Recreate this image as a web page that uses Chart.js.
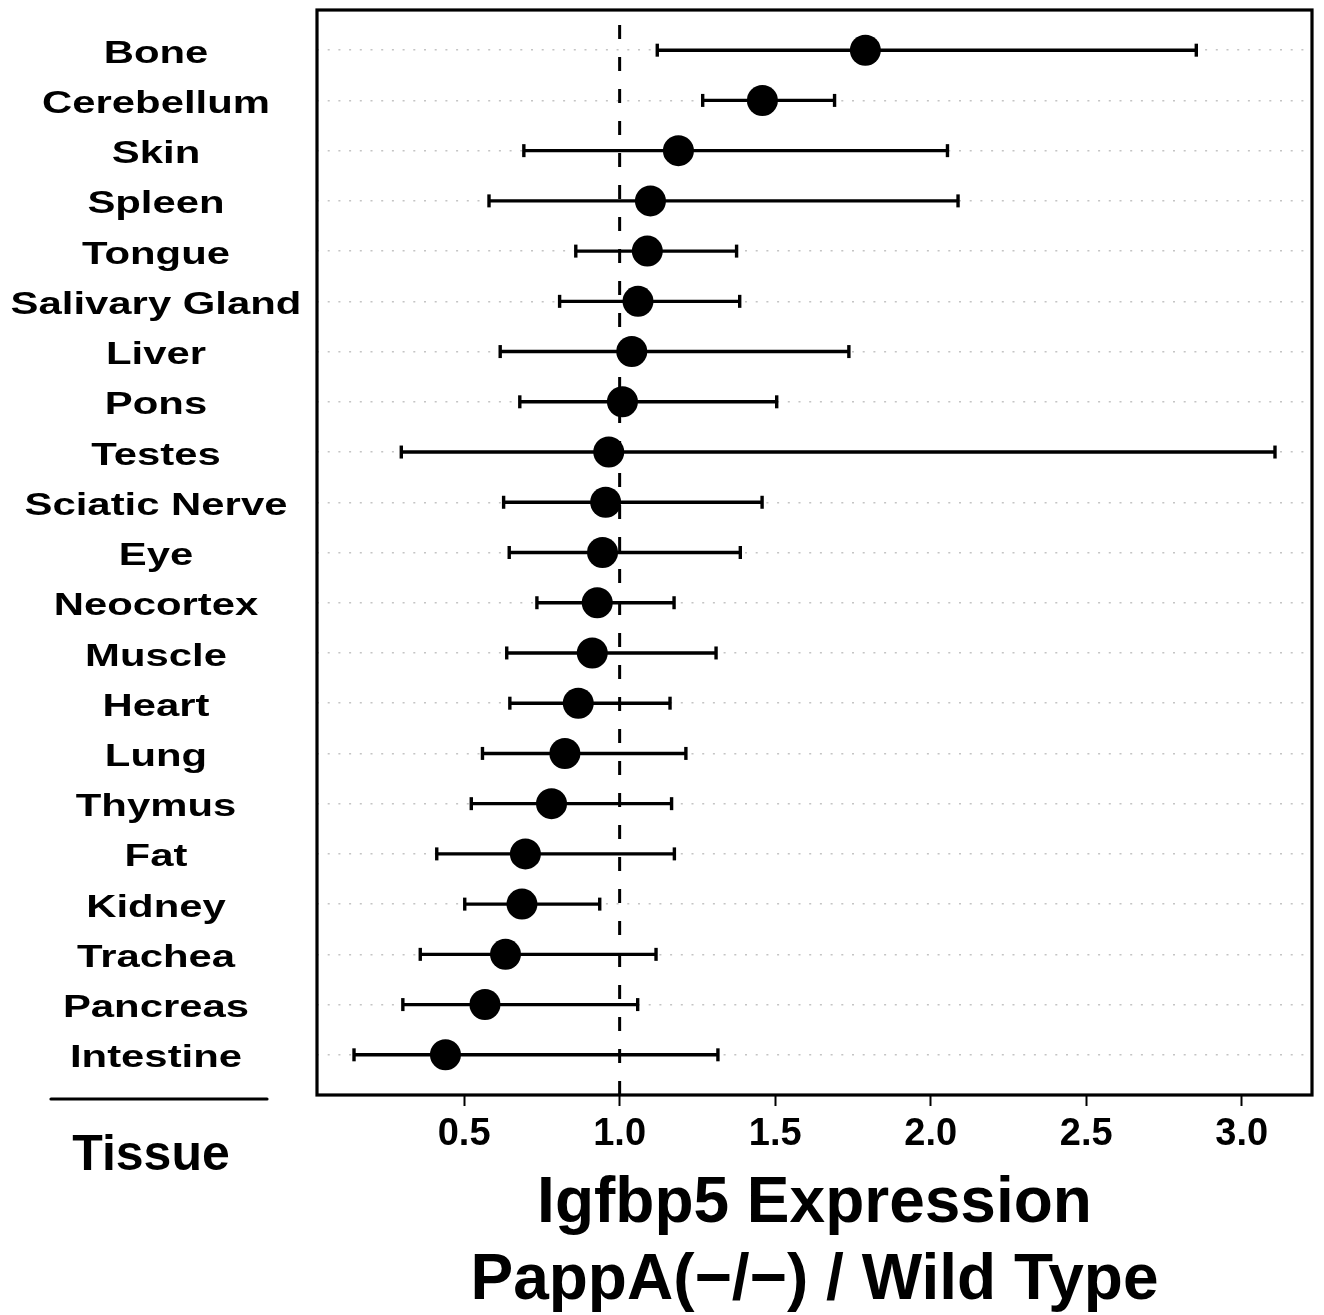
<!DOCTYPE html>
<html>
<head>
<meta charset="utf-8">
<script src="https://cdn.jsdelivr.net/npm/chart.js@4.4.1/dist/chart.umd.min.js"></script>
<style>
  body { margin: 0; background: #fff; }
  canvas { display: block; }
</style>
</head>
<body>
<canvas id="graphique" width="1324" height="1315"></canvas>
<script>
// Tissus, du haut vers le bas
const tissus = ["Bone", "Cerebellum", "Skin", "Spleen", "Tongue", "Salivary Gland", "Liver", "Pons",
  "Testes", "Sciatic Nerve", "Eye", "Neocortex", "Muscle", "Heart", "Lung", "Thymus", "Fat",
  "Kidney", "Trachea", "Pancreas", "Intestine"];
// Rapport d'expression PappA(-/-) / sauvage
const moyennes = [1.790, 1.459, 1.189, 1.099, 1.089, 1.059, 1.039, 1.009, 0.965, 0.955, 0.945,
  0.928, 0.912, 0.867, 0.824, 0.781, 0.697, 0.686, 0.633, 0.567, 0.440];
const bornesBasses = [1.121, 1.267, 0.692, 0.580, 0.859, 0.807, 0.616, 0.679, 0.298, 0.627, 0.645,
  0.734, 0.637, 0.647, 0.559, 0.523, 0.412, 0.502, 0.359, 0.303, 0.146];
const bornesHautes = [2.854, 1.691, 2.054, 2.088, 1.376, 1.386, 1.737, 1.505, 3.107, 1.458, 1.388,
  1.175, 1.310, 1.162, 1.213, 1.167, 1.176, 0.936, 1.117, 1.058, 1.316];
// Graduations de l'axe horizontal
const graduationsX = [0.5, 1.0, 1.5, 2.0, 2.5, 3.0];
const etiquettesX = ["0.5", "1.0", "1.5", "2.0", "2.5", "3.0"];
const titreX = ["Igfbp5 Expression", "PappA(\u2212/\u2212) / Wild Type"];
const titreY = "Tissue";
const valeurReference = 1.0;

const police = '"Liberation Sans", Arial, Helvetica, sans-serif';

// Points moyens
const pointsMoyens = moyennes.map((m, i) => ({ x: m, y: i + 1 }));

// Barres d'erreur : un segment par tissu, coupé par un point vide
const segmentsErreur = [];
for (let i = 0; i < tissus.length; i++) {
  segmentsErreur.push({ x: bornesBasses[i], y: i + 1 });
  segmentsErreur.push({ x: bornesHautes[i], y: i + 1 });
  segmentsErreur.push({ x: null, y: null });
}

// Ligne verticale pointillée à 1.0
const ligneReference = [{ x: valeurReference, y: 21.8 }, { x: valeurReference, y: 0.2 }];

// Étiquettes des tissus (texte élargi comme sur la figure), cadre et titre "Tissue"
const decorations = {
  id: "decorations",
  afterDraw(chart) {
    const ctx = chart.ctx;
    const zone = chart.chartArea;
    const echelleY = chart.scales.y;

    ctx.save();
    ctx.strokeStyle = "#000";
    ctx.lineWidth = 3.2;
    ctx.strokeRect(zone.left, zone.top, zone.right - zone.left, zone.bottom - zone.top);

    ctx.fillStyle = "#000";
    ctx.textAlign = "center";
    ctx.textBaseline = "middle";
    ctx.font = "bold 31px " + police;
    for (let i = 0; i < tissus.length; i++) {
      const y = echelleY.getPixelForValue(i + 1) + 4;
      ctx.save();
      ctx.translate(156, y);
      ctx.scale(1.35, 1);
      ctx.fillText(tissus[i], 0, 0);
      ctx.restore();
    }

    // trait au-dessus de "Tissue"
    ctx.lineCap = "round";
    ctx.beginPath();
    ctx.moveTo(51, 1099);
    ctx.lineTo(267, 1099);
    ctx.stroke();

    ctx.font = "bold 50px " + police;
    ctx.fillText(titreY, 151, 1156);
    ctx.restore();
  }
};

new Chart(document.querySelector("#graphique"), {
  type: "scatter",
  data: {
    datasets: [
      {
        data: pointsMoyens,
        pointRadius: 15.5,
        pointBackgroundColor: "#000",
        pointBorderColor: "#000",
        pointBorderWidth: 0,
        showLine: false
      },
      {
        data: segmentsErreur,
        showLine: true,
        borderColor: "#000",
        borderWidth: 3.4,
        pointStyle: "line",
        rotation: 90,
        pointRadius: 6.5,
        pointBorderWidth: 3.4,
        pointBorderColor: "#000",
        spanGaps: false
      },
      {
        data: ligneReference,
        showLine: true,
        borderColor: "#000",
        borderWidth: 3,
        borderDash: [14, 18],
        pointRadius: 0
      }
    ]
  },
  options: {
    responsive: false,
    animation: false,
    events: [],
    layout: { autoPadding: false, padding: { top: 10, right: 12, left: 0, bottom: 0 } },
    plugins: {
      legend: { display: false },
      tooltip: { enabled: false }
    },
    scales: {
      x: {
        type: "linear",
        min: 0.027,
        max: 3.226,
        afterBuildTicks: (echelle) => { echelle.ticks = graduationsX.map(v => ({ value: v })); },
        afterFit: (echelle) => { echelle.height = 220; },
        border: { display: false },
        grid: { drawOnChartArea: false, drawTicks: true, tickLength: 11, tickWidth: 2, tickColor: "#000" },
        ticks: {
          autoSkip: false,
          maxRotation: 0,
          padding: 6,
          color: "#000",
          font: { family: police, size: 38, weight: "bold" },
          callback: (valeur, index) => etiquettesX[index]
        },
        title: {
          display: true,
          text: titreX,
          color: "#000",
          padding: { top: 0, bottom: -5 },
          font: { family: police, size: 64, weight: "bold", lineHeight: 1.2 }
        }
      },
      y: {
        type: "linear",
        min: 0.2,
        max: 21.8,
        reverse: true,
        afterBuildTicks: (echelle) => { echelle.ticks = tissus.map((t, i) => ({ value: i + 1 })); },
        afterFit: (echelle) => { echelle.width = 317; },
        ticks: { display: false },
        border: { display: false, dash: [2, 8.7] },
        grid: { color: "#c4c4c4", lineWidth: 1.5, drawTicks: false }
      }
    }
  },
  plugins: [decorations]
});
</script>
</body>
</html>
